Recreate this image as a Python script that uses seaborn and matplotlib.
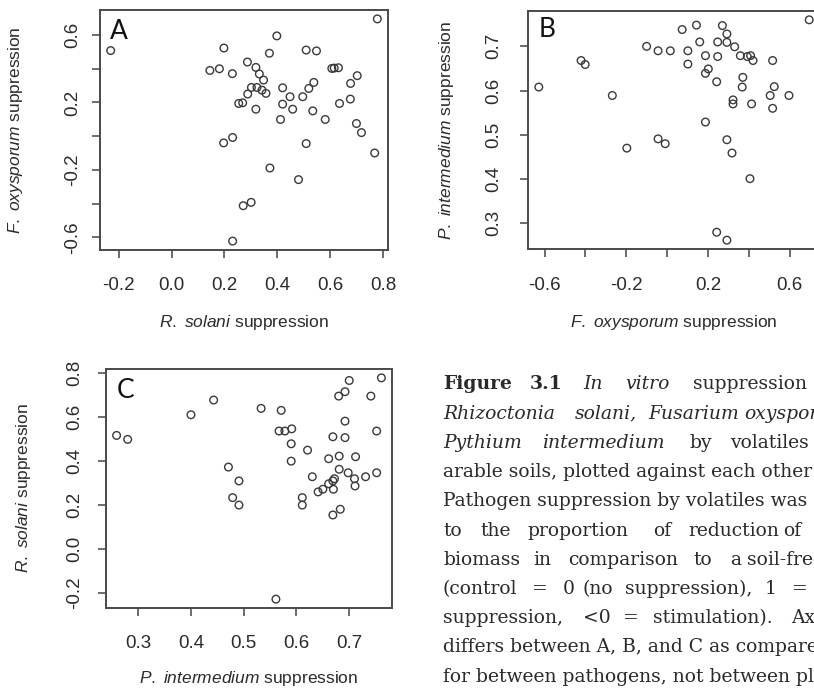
import numpy as np
import pandas as pd
import matplotlib
matplotlib.use('Agg')
import matplotlib.pyplot as plt
import seaborn as sns

# ---------------- data ----------------
# Panel A: R. solani (x) vs F. oxysporum (y)
a_rsolani = [-0.230, 0.778, 0.398, 0.198, 0.370, 0.509, 0.548, 0.145, 0.181, 0.230,
             0.287, 0.319, 0.332, 0.348, 0.302, 0.323, 0.342, 0.357, 0.288, 0.254,
             0.269, 0.319, 0.420, 0.448, 0.420, 0.458, 0.412, 0.496, 0.519, 0.538,
             0.534, 0.581, 0.606, 0.615, 0.631, 0.702, 0.677, 0.676, 0.635, 0.699,
             0.718, 0.768, 0.509, 0.197, 0.231, 0.372, 0.480, 0.271, 0.301, 0.231]
a_foxysporum = [0.508, 0.696, 0.595, 0.523, 0.492, 0.511, 0.506, 0.390, 0.400, 0.371,
                0.440, 0.408, 0.369, 0.333, 0.289, 0.289, 0.273, 0.254, 0.250, 0.194,
                0.198, 0.160, 0.287, 0.234, 0.190, 0.160, 0.099, 0.234, 0.283, 0.319,
                0.150, 0.099, 0.402, 0.404, 0.406, 0.359, 0.313, 0.220, 0.194, 0.075,
                0.021, -0.100, -0.044, -0.040, -0.008, -0.189, -0.258, -0.413, -0.393, -0.623]

# Panel B: F. oxysporum (x) vs P. intermedium (y)
b_foxysporum = [-0.628, -0.421, -0.401, -0.268, -0.197, -0.100, -0.044, 0.016, -0.044, -0.009,
                0.074, 0.144, 0.102, 0.102, 0.160, 0.188, 0.202, 0.188, 0.243, 0.248,
                0.248, 0.271, 0.293, 0.293, 0.331, 0.359, 0.393, 0.409, 0.421, 0.371,
                0.368, 0.323, 0.323, 0.414, 0.517, 0.525, 0.505, 0.517, 0.597, 0.188,
                0.293, 0.318, 0.406, 0.243, 0.293, 0.696]
b_pintermedium = [0.608, 0.668, 0.659, 0.589, 0.470, 0.700, 0.690, 0.690, 0.491, 0.480,
                  0.738, 0.748, 0.690, 0.660, 0.710, 0.679, 0.649, 0.639, 0.620, 0.710,
                  0.677, 0.747, 0.728, 0.709, 0.699, 0.679, 0.677, 0.679, 0.668, 0.630,
                  0.608, 0.579, 0.570, 0.570, 0.668, 0.609, 0.589, 0.560, 0.589, 0.529,
                  0.489, 0.459, 0.401, 0.280, 0.262, 0.760]

# Panel C: P. intermedium (x) vs R. solani (y)
c_pintermedium = [0.259, 0.280, 0.400, 0.443, 0.471, 0.491, 0.479, 0.491, 0.533, 0.571,
                  0.567, 0.578, 0.591, 0.590, 0.590, 0.621, 0.630, 0.611, 0.611, 0.641,
                  0.650, 0.661, 0.661, 0.669, 0.669, 0.672, 0.670, 0.669, 0.683, 0.681,
                  0.681, 0.680, 0.692, 0.692, 0.692, 0.700, 0.698, 0.710, 0.712, 0.711,
                  0.731, 0.741, 0.752, 0.752, 0.761, 0.561]
c_rsolani = [0.515, 0.497, 0.609, 0.676, 0.371, 0.308, 0.232, 0.198, 0.638, 0.629,
             0.535, 0.535, 0.545, 0.477, 0.398, 0.448, 0.327, 0.232, 0.198, 0.258,
             0.270, 0.295, 0.409, 0.509, 0.308, 0.318, 0.270, 0.153, 0.179, 0.421,
             0.361, 0.694, 0.714, 0.580, 0.505, 0.765, 0.345, 0.318, 0.418, 0.285,
             0.327, 0.694, 0.535, 0.345, 0.777, -0.230]

a_xticks = [-0.2, 0.0, 0.2, 0.4, 0.6, 0.8]
a_xticklabels = ['-0.2', '0.0', '0.2', '0.4', '0.6', '0.8']
a_yticks = [-0.6, -0.4, -0.2, 0.0, 0.2, 0.4, 0.6]
a_yticklabels = ['-0.6', '', '-0.2', '', '0.2', '', '0.6']
b_xticks = [-0.6, -0.4, -0.2, 0.0, 0.2, 0.4, 0.6]
b_xticklabels = ['-0.6', '', '-0.2', '', '0.2', '', '0.6']
b_yticks = [0.3, 0.4, 0.5, 0.6, 0.7]
b_yticklabels = ['0.3', '0.4', '0.5', '0.6', '0.7']
c_xticks = [0.3, 0.4, 0.5, 0.6, 0.7]
c_xticklabels = ['0.3', '0.4', '0.5', '0.6', '0.7']
c_yticks = [-0.2, 0.0, 0.2, 0.4, 0.6, 0.8]
c_yticklabels = ['-0.2', '0.0', '0.2', '0.4', '0.6', '0.8']

# ---------------- style ----------------
sns.set_theme(style='white')
plt.rcParams['font.family'] = ['Liberation Sans', 'DejaVu Sans']
plt.rcParams['mathtext.fontset'] = 'custom'
plt.rcParams['mathtext.it'] = 'Liberation Sans:italic'
plt.rcParams['mathtext.rm'] = 'Liberation Sans'

INK = '#2b2b2b'
W, H = 814, 691
fig = plt.figure(figsize=(W / 100, H / 100), dpi=100)
fig.patch.set_facecolor('white')


def box(l, t, r, b):
    return fig.add_axes([l / W, 1 - b / H, (r - l) / W, (b - t) / H])


def rlim(v):
    lo, hi = min(v), max(v)
    d = (hi - lo) * 0.04
    return lo - d, hi + d


def panel(ax, x, y, xticks, xtl, yticks, ytl, xlab, ylab, letter,
          xlab_y, ylab_x, let_x, let_y, xpad, ypad):
    df = pd.DataFrame({'x': x, 'y': y})
    sns.scatterplot(data=df, x='x', y='y', ax=ax, s=30, facecolor='none',
                    edgecolor='#3a3a3a', linewidth=1.0, legend=False, zorder=3)
    ax.set_xlim(*rlim(x))
    ax.set_ylim(*rlim(y))
    ax.set_facecolor('white')
    ax.set_xticks(xticks)
    ax.set_xticklabels(xtl, fontsize=13.5, color=INK)
    ax.set_yticks(yticks)
    ax.set_yticklabels(ytl, fontsize=13.5, color=INK, rotation=90, va='center')
    ax.tick_params(axis='both', direction='out', length=6, width=1.1,
                   color='#444444', bottom=True, left=True)
    ax.tick_params(axis='x', pad=xpad)
    ax.tick_params(axis='y', pad=ypad)
    for s in ax.spines.values():
        s.set_visible(True)
        s.set_color('#4a4a4a')
        s.set_linewidth(1.4)
    ax.set_xlabel(xlab, fontsize=12.5, color=INK)
    ax.set_ylabel(ylab, fontsize=12.5, color=INK)
    ax.xaxis.set_label_coords(0.5, xlab_y)
    ax.xaxis.label.set_va('center')
    ax.yaxis.set_label_coords(ylab_x, 0.5)
    ax.yaxis.label.set_va('center')
    ax.text(let_x, let_y, letter, transform=ax.transAxes, fontsize=19,
            family=['Lato', 'DejaVu Sans'], color='#111111', va='baseline', ha='left')
    ax.grid(False)


axA = box(100, 10, 388, 250)
panel(axA, a_rsolani, a_foxysporum, a_xticks, a_xticklabels, a_yticks, a_yticklabels,
      r'$\mathit{R.\ solani}$ suppression', r'$\mathit{F.\ oxysporum}$ suppression', 'A',
      -0.30, -0.292, 0.035, 0.879, 13.5, 7.5)

axB = box(528, 11, 820, 249)
panel(axB, b_foxysporum, b_pintermedium, b_xticks, b_xticklabels, b_yticks, b_yticklabels,
      r'$\mathit{F.\ oxysporum}$ suppression', r'$\mathit{P.\ intermedium}$ suppression', 'B',
      -0.307, -0.28, 0.035, 0.891, 14, 12.4)

axC = box(106, 369, 392, 608)
panel(axC, c_pintermedium, c_rsolani, c_xticks, c_xticklabels, c_yticks, c_yticklabels,
      r'$\mathit{P.\ intermedium}$ suppression', r'$\mathit{R.\ solani}$ suppression', 'C',
      -0.293, -0.29, 0.038, 0.879, 13.5, 10.3)

# ---------------- caption ----------------
SERIF = ['DejaVu Serif']
CAP_COLOR = '#2a2a2a'
renderer = fig.canvas.get_renderer()
probe = fig.text(0, 0, 'arable soils, plotted against each othe', fontsize=12,
                 family=SERIF)
wpx = probe.get_window_extent(renderer).width
probe.remove()
CAP_FS = 12 * 362.0 / wpx

x0 = 443
base0 = 389.3
dy = 29.24

# justified lines: (line index, [(word, x_px, style, weight)])
just_lines = [
    (0, [('Figure', 443, 'normal', 'bold'), ('3.1', 530, 'normal', 'bold'),
         ('In', 583, 'italic', 'normal'), ('vitro', 625, 'italic', 'normal'),
         ('suppression', 693, 'normal', 'normal')]),
    (1, [('Rhizoctonia', 443, 'italic', 'normal'), ('solani,', 575, 'italic', 'normal'),
         ('Fusarium', 648, 'italic', 'normal'), ('oxysporum', 744, 'italic', 'normal')]),
    (2, [('Pythium', 443, 'italic', 'normal'), ('intermedium', 542, 'italic', 'normal'),
         ('by', 690, 'normal', 'normal'), ('volatiles', 730, 'normal', 'normal')]),
    (5, [('to', 443, 'normal', 'normal'), ('the', 480, 'normal', 'normal'),
         ('proportion', 528, 'normal', 'normal'), ('of', 653, 'normal', 'normal'),
         ('reduction', 688, 'normal', 'normal'), ('of', 783, 'normal', 'normal')]),
    (6, [('biomass', 443, 'normal', 'normal'), ('in', 533, 'normal', 'normal'),
         ('comparison', 568, 'normal', 'normal'), ('to', 693, 'normal', 'normal'),
         ('a', 730, 'normal', 'normal'), ('soil-free', 747, 'normal', 'normal')]),
    (7, [('(control', 443, 'normal', 'normal'), ('=', 532, 'normal', 'normal'),
         ('0', 563, 'normal', 'normal'), ('(no', 583, 'normal', 'normal'),
         ('suppression),', 625, 'normal', 'normal'), ('1', 765, 'normal', 'normal'),
         ('=', 792, 'normal', 'normal')]),
    (8, [('suppression,', 443, 'normal', 'normal'), ('<0', 583, 'normal', 'normal'),
         ('=', 623, 'normal', 'normal'), ('stimulation).', 653, 'normal', 'normal'),
         ('Axis', 791, 'normal', 'normal')]),
]
plain_lines = [
    (3, 'arable soils, plotted against each other'),
    (4, 'Pathogen suppression by volatiles was'),
    (9, 'differs between A, B, and C as compared'),
    (10, 'for between pathogens, not between plots'),
]

for idx, words in just_lines:
    yb = base0 + idx * dy
    for w, xp, st, wt in words:
        fig.text(xp / W, 1 - yb / H, w, fontsize=CAP_FS, family=SERIF, style=st,
                 weight=wt, color=CAP_COLOR, va='baseline', ha='left')
for idx, s in plain_lines:
    yb = base0 + idx * dy
    fig.text(x0 / W, 1 - yb / H, s, fontsize=CAP_FS, family=SERIF,
             color=CAP_COLOR, va='baseline', ha='left')

fig.savefig('out.png', dpi=100, facecolor='white')
